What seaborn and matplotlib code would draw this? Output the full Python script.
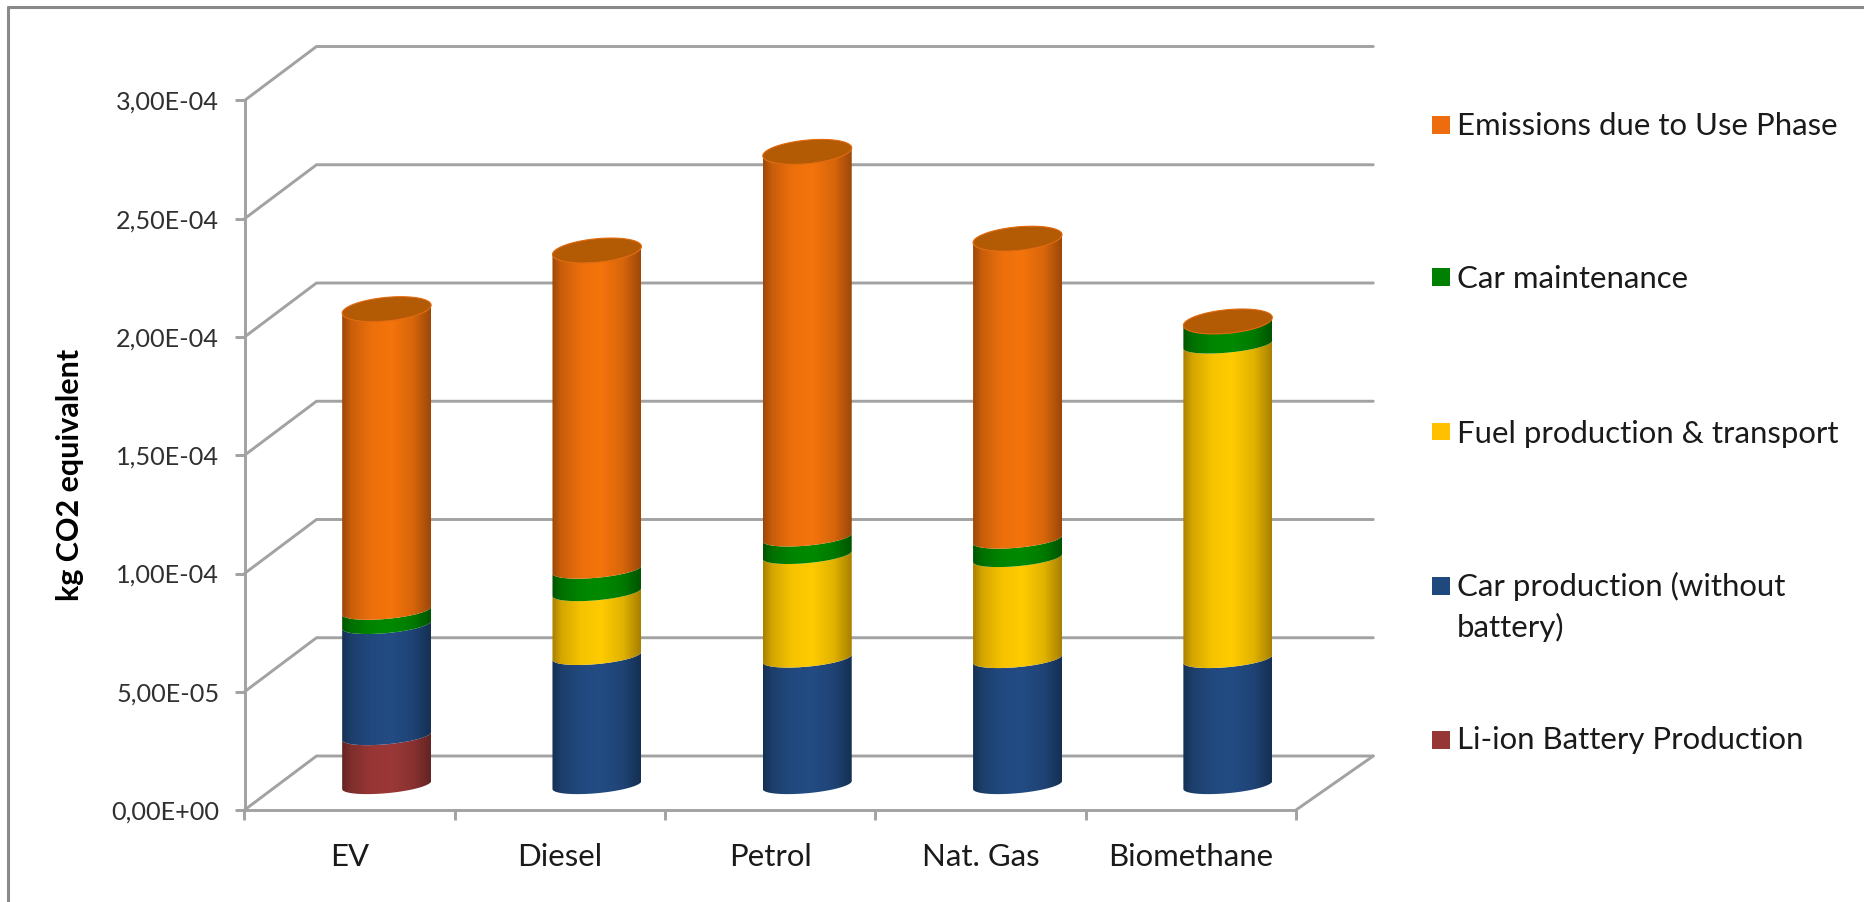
import numpy as np
import pandas as pd
import matplotlib
matplotlib.use("Agg")
import matplotlib.pyplot as plt
from matplotlib.colors import LinearSegmentedColormap, to_rgb
from matplotlib.lines import Line2D
from matplotlib.patches import PathPatch, Rectangle
from matplotlib.path import Path
from matplotlib.transforms import IdentityTransform
import seaborn as sns

# ---- values (kg CO2 equivalent) ----
vehicles = ["EV", "Diesel", "Petrol", "Nat. Gas", "Biomethane"]
li_ion = [2.07e-5, 0, 0, 0, 0]
car_production = [4.70e-5, 5.46e-5, 5.35e-5, 5.33e-5, 5.33e-5]
fuel_production = [0, 2.70e-5, 4.38e-5, 4.27e-5, 13.30e-5]
maintenance = [0.60e-5, 0.95e-5, 0.74e-5, 0.78e-5, 0.95e-5]
use_phase = [12.75e-5, 13.49e-5, 16.30e-5, 12.72e-5, 0.02e-5]

y_ticks = [0, 5e-5, 1e-4, 1.5e-4, 2e-4, 2.5e-4, 3e-4]
y_tick_labels = ["0,00E+00", "5,00E-05", "1,00E-04", "1,50E-04",
                 "2,00E-04", "2,50E-04", "3,00E-04"]

series_names = ["Li-ion Battery Production", "Car production (without\nbattery)",
                "Fuel production & transport", "Car maintenance",
                "Emissions due to Use Phase"]
series_values = [li_ion, car_production, fuel_production, maintenance, use_phase]
series_colors = ["#953735", "#1F497D", "#FFC000", "#008000", "#EC6C0E"]
bright_colors = ["#9C3837", "#234C84", "#FFCB00", "#008A00", "#F5740C"]

W, H = 1864, 902
AX_LEFT, AX_RIGHT, AX_TOP, AX_BOTTOM = 244.5, 1296, 100.5, 810
DEPTH_X, DEPTH_Y = 72, 54          # px from front of the box to its back wall
BAR_DX, BAR_DY = 37, 25            # px from front of the box to the bar plane
LINE = "#A2A2A2"
FRAME = "#8A8A8A"
FONT = "Lato"

sns.set_theme(style="white")
plt.rcParams["font.family"] = [FONT, "DejaVu Sans"]

fig = plt.figure(figsize=(W / 100, H / 100), dpi=100, facecolor="white")

xlim, ylim = (-0.5, 4.5), (0, 3e-4)
px_per_value = (AX_BOTTOM - AX_TOP) / (ylim[1] - ylim[0])
BAR_FLOOR = -2e-5                  # room under the zero line for the rounded bar feet

ax = fig.add_axes([AX_LEFT / W, (H - AX_BOTTOM) / H,
                   (AX_RIGHT - AX_LEFT) / W, (AX_BOTTOM - AX_TOP) / H])
bar_ax = fig.add_axes([(AX_LEFT + BAR_DX) / W,
                       (H - AX_BOTTOM + BAR_DY + BAR_FLOOR * px_per_value) / H,
                       (AX_RIGHT - AX_LEFT) / W,
                       (AX_BOTTOM - AX_TOP - BAR_FLOOR * px_per_value) / H])
bar_ylim = (BAR_FLOOR, ylim[1])

# ---- stacked bars ----
frame = pd.DataFrame({"vehicle": vehicles})
stack_base = np.zeros(len(vehicles))
segments = []
for name, values, color in zip(series_names, series_values, series_colors):
    frame["value"] = values
    before = len(bar_ax.patches)
    sns.barplot(data=frame, x="vehicle", y="value", order=vehicles, color=color,
                saturation=1, width=0.423, bottom=stack_base, errorbar=None, ax=bar_ax)
    segments.append(bar_ax.patches[before:])
    stack_base = stack_base + np.asarray(values)

bar_ax.set_xlim(xlim)
bar_ax.set_ylim(bar_ylim)
bar_ax.autoscale(False)
bar_ax.axis("off")
bar_ax.patch.set_visible(False)

ARC = 8.2 / px_per_value       # front bulge of a band edge
CAP = 11.8 / px_per_value      # half height of the top ellipse
TILT = 4.0 / px_per_value      # right side sits higher than the left


def edge_curve(x0, width, y, bulge, start, stop, n=60):
    t = np.linspace(start, stop, n)
    xs = x0 + width / 2 * (1 + np.cos(t))
    ys = y + bulge * np.sin(t) + TILT * np.cos(t)
    return np.column_stack([xs, ys])


def shade_map(color, bright):
    dark = np.array(to_rgb(color)) * 0.66
    mid = np.array(to_rgb(bright))
    return LinearSegmentedColormap.from_list(
        "shade",
        [(0, dark), (0.10, dark * 0.5 + mid * 0.5), (0.32, mid * 0.96), (0.55, mid),
         (0.80, mid * 0.88), (1, dark)])


z = 3
for i, (bars, color, bright) in enumerate(zip(segments, series_colors, bright_colors)):
    cmap = shade_map(color, bright)
    for bar in bars:
        bar.set_visible(False)
        if bar.get_height() <= 0:
            continue
        x0, w = bar.get_x(), bar.get_width()
        y0, y1 = bar.get_y(), bar.get_y() + bar.get_height()
        upper_bulge = CAP if i == len(segments) - 1 else ARC
        lower = edge_curve(x0, w, y0, ARC, np.pi, 2 * np.pi)
        upper = edge_curve(x0, w, y1, upper_bulge, 2 * np.pi, np.pi)
        outline = Path(np.vstack([lower, upper, lower[:1]]), closed=True)
        image = bar_ax.imshow(np.linspace(0, 1, 256)[None, :], cmap=cmap, vmin=0, vmax=1,
                              aspect="auto", interpolation="bilinear", origin="lower",
                              extent=(x0, x0 + w, y0 - 3 * CAP, y1 + 3 * CAP), zorder=z)
        image.set_clip_path(PathPatch(outline, transform=bar_ax.transData))
        z += 1

# top ellipse on every stack
totals = stack_base
top_bars = segments[-1]
for bar, total in zip(top_bars, totals):
    x0, w = bar.get_x(), bar.get_width()
    ring = edge_curve(x0, w, total, CAP, 0, 2 * np.pi, 120)
    bar_ax.add_patch(PathPatch(Path(ring, closed=True), facecolor="#B35A05",
                               edgecolor="#E2690C", linewidth=0.8, zorder=z))
bar_ax.set_xlim(xlim)
bar_ax.set_ylim(bar_ylim)

# ---- front axis box ----
ax.set_xlim(xlim)
ax.set_ylim(ylim)
ax.set_facecolor("none")
for side in ("top", "right"):
    ax.spines[side].set_visible(False)
for side in ("left", "bottom"):
    ax.spines[side].set_color(LINE)
    ax.spines[side].set_linewidth(2.1)

ax.set_yticks(y_ticks)
ax.set_yticklabels(y_tick_labels)
ax.set_xticks(range(len(vehicles)))
ax.set_xticklabels(vehicles)
ax.set_xticks(np.arange(-0.5, 5), minor=True)
ax.tick_params(axis="y", length=7.2, width=2.1, color=LINE, pad=11,
               labelsize=18.2, labelcolor="#303030", left=True)
ax.tick_params(axis="x", which="major", length=0, pad=24, labelsize=22.4,
               labelcolor="#1A1A1A", bottom=False)
ax.tick_params(axis="x", which="minor", length=7.2, width=2.1, color=LINE, bottom=True)
ax.set_ylabel("kg CO2 equivalent", fontsize=22, fontweight="bold", color="black")
ax.yaxis.set_label_coords(-0.153, 0.472)

# walls: each gridline runs from the y axis back along the side wall, then across the back
BACK_END = 4.525
for value in y_ticks:
    fx, fy = ax.transData.transform((xlim[0], value))
    ex, _ = ax.transData.transform((BACK_END, value))
    ax.add_line(Line2D([fx, fx + DEPTH_X, ex + DEPTH_X], [fy, fy + DEPTH_Y, fy + DEPTH_Y],
                       color=LINE, lw=2.1, transform=IdentityTransform(),
                       clip_on=False, solid_joinstyle="miter", zorder=1))
fx, fy = ax.transData.transform((xlim[1], 0))
ex, _ = ax.transData.transform((BACK_END, 0))
ax.add_line(Line2D([fx, ex + DEPTH_X], [fy, fy + DEPTH_Y], color=LINE, lw=2.1,
                   transform=IdentityTransform(), clip_on=False, zorder=1))

# ---- outer frame: only its top and left edges are in view ----
fig.add_artist(Line2D([8 / W, 1], [1 - 6.5 / H, 1 - 6.5 / H], color=FRAME, lw=2.2,
                      transform=fig.transFigure))
fig.add_artist(Line2D([8 / W, 8 / W], [0, 1 - 6.5 / H], color=FRAME, lw=2.2,
                      transform=fig.transFigure))

# ---- legend column ----
legend_y = [740, 607, 434, 278.5, 126]
swatch_y = [739.5, 586, 431.5, 277, 125]
for name, color, ty, sy in zip(series_names, series_colors, legend_y, swatch_y):
    fig.add_artist(Rectangle((1432 / W, 1 - (sy + 9) / H), 18 / W, 18 / H, facecolor=color,
                             edgecolor="none", transform=fig.transFigure))
    fig.text(1457 / W, 1 - ty / H, name, ha="left", va="center", fontsize=22.4,
             color="#1A1A1A", linespacing=1.5)

fig.savefig("out.png", dpi=100, facecolor="white")
